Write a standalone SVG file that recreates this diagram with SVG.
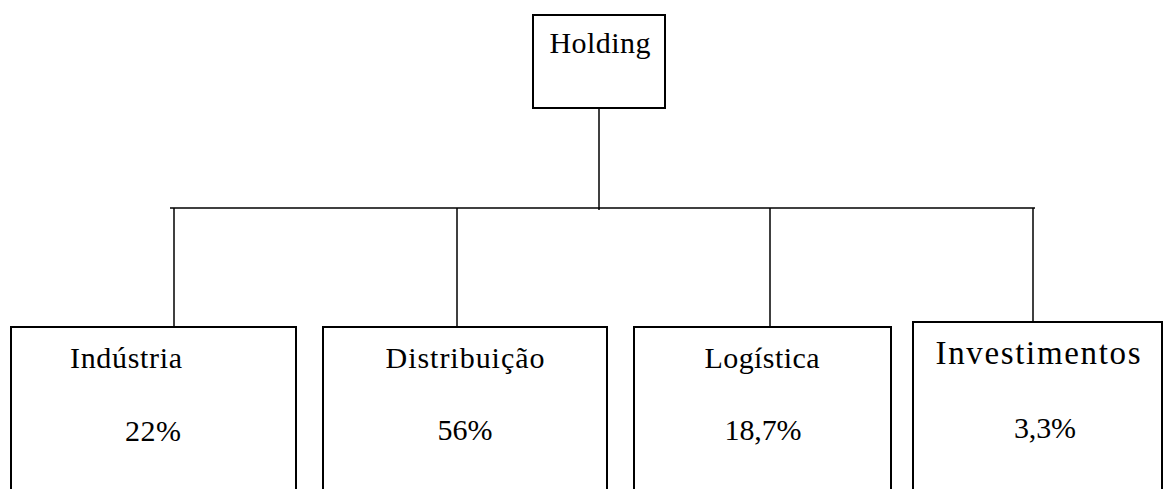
<svg xmlns="http://www.w3.org/2000/svg" width="1166" height="489" viewBox="0 0 1166 489">
  <style>
    .box { fill: #ffffff; stroke: #000000; stroke-width: 2; }
    .link { fill: none; stroke: #000000; stroke-width: 1.5; }
    .lbl { font-family: "Liberation Serif", "DejaVu Serif", serif; font-size: 30px; fill: #000000; text-anchor: middle; }
    .wide { font-size: 33px; }
  </style>
  <rect width="1166" height="489" fill="#ffffff"/>

  <!-- connectors -->
  <g id="connectors">
    <line class="link" x1="599" y1="108" x2="599" y2="210"/>
    <line class="link" x1="170" y1="208" x2="1035" y2="208"/>
    <line class="link" x1="174" y1="208" x2="174" y2="327"/>
    <line class="link" x1="457" y1="208" x2="457" y2="327"/>
    <line class="link" x1="770" y1="208" x2="770" y2="327"/>
    <line class="link" x1="1033" y1="208" x2="1033" y2="322"/>
  </g>

  <g id="holding">
    <rect class="box" x="533" y="15" width="132" height="93"/>
    <text class="lbl" x="600" y="53" textLength="101" lengthAdjust="spacing">Holding</text>
  </g>

  <g id="industria">
    <rect class="box" x="11" y="327" width="285" height="180"/>
    <text class="lbl" x="126" y="368" textLength="112" lengthAdjust="spacing">Indústria</text>
    <text class="lbl" x="153" y="441" textLength="56" lengthAdjust="spacing">22%</text>
  </g>

  <g id="distribuicao">
    <rect class="box" x="323" y="327" width="284" height="180"/>
    <text class="lbl" x="465" y="368" textLength="159" lengthAdjust="spacing">Distribuição</text>
    <text class="lbl" x="465" y="440" textLength="55" lengthAdjust="spacing">56%</text>
  </g>

  <g id="logistica">
    <rect class="box" x="634" y="327" width="257" height="180"/>
    <text class="lbl" x="762" y="368" textLength="115" lengthAdjust="spacing">Logística</text>
    <text class="lbl" x="763" y="440" textLength="77" lengthAdjust="spacing">18,7%</text>
  </g>

  <g id="investimentos">
    <rect class="box" x="913" y="322" width="249" height="185"/>
    <text class="lbl wide" x="1038" y="364" textLength="205" lengthAdjust="spacing">Investimentos</text>
    <text class="lbl" x="1045" y="438" textLength="62" lengthAdjust="spacing">3,3%</text>
  </g>
</svg>
